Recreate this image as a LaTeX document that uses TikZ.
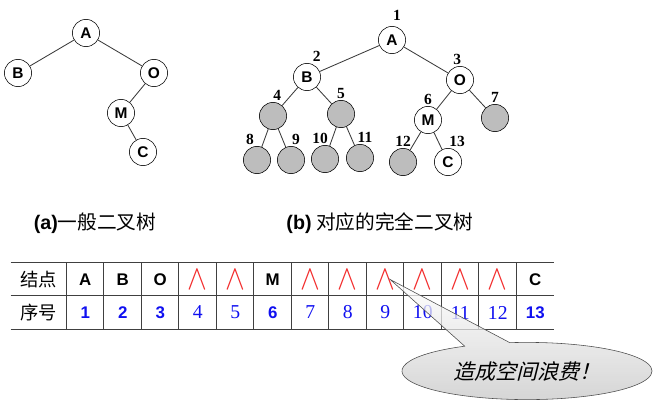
\documentclass[tikz,border=0pt]{standalone}
\usepackage{fontspec}
\setmainfont{Liberation Sans}
\newfontfamily\serifnum{Liberation Serif}
\newfontfamily\cjk{Noto Sans CJK SC}
\newfontfamily\cjkslant[FakeSlant=0.25]{Noto Sans CJK SC}
\usetikzlibrary{shapes.callouts}
\definecolor{idxblue}{HTML}{1010F0}
\definecolor{nilred}{HTML}{F22B2B}
\definecolor{branchgray}{HTML}{3A3A3A}
\definecolor{holegray}{HTML}{BDBDBD}
\newcommand{\nilmark}{\textcolor{nilred}{\scalebox{0.85}[1]{\fontsize{26}{26}\selectfont$\wedge$}}}

\begin{document}
\begin{tikzpicture}[
  x=0.025cm,y=-0.025cm,
  vertex/.style={circle,draw,thin,minimum size=0.68cm,inner sep=0pt,font=\fontsize{11}{11}\selectfont\bfseries},
  hole/.style={vertex,fill=holegray},
  branch/.style={draw=branchgray,semithick},
  num/.style={font=\serifnum\bfseries\fontsize{11}{11}\selectfont,inner sep=1pt},
  caption/.style={font=\fontsize{14}{16}\selectfont\cjk},
  head/.style={minimum width=1.3875cm,minimum height=0.825cm,inner sep=0pt,font=\fontsize{13}{13}\selectfont\cjk},
  cell/.style={minimum width=0.9375cm,minimum height=0.825cm,inner sep=0pt,font=\fontsize{12}{12}\selectfont\bfseries},
  idxb/.style={cell,text=idxblue},
  idxr/.style={cell,text=idxblue,font=\serifnum\fontsize{14}{14}\selectfont},
  rule/.style={line width=0.8pt,black!75},
  bubble/.style={ellipse callout,draw=black!70,top color=white,bottom color=gray!45,fill opacity=0.75,text opacity=1,minimum width=6.25cm,minimum height=1.43cm,callout pointer arc=22,font=\fontsize{15}{17}\selectfont\cjkslant}
]
  \useasboundingbox (0,0) rectangle (655,406);

  % (a) general binary tree
  \node[vertex] (aA) at (86,33) {A};
  \node[vertex] (aB) at (18,73) {B};
  \node[vertex] (aO) at (154,73) {O};
  \node[vertex] (aM) at (121,113) {M};
  \node[vertex] (aC) at (143,152) {C};
  \draw[branch] (aA) -- (aB) (aA) -- (aO) (aO) -- (aM) (aM) -- (aC);

  % (b) matching complete binary tree
  \node[vertex,label={[num,xshift=3.5pt,yshift=3pt]above:1}] (bA) at (392,40) {A};
  \node[vertex,label={[num,xshift=7pt]above:2}] (bB) at (307,77) {B};
  \node[vertex,label={[num,xshift=-2pt]above:3}] (bO) at (460,80) {O};
  \node[hole,label={[num,xshift=3pt]above:4}] (b4) at (273,116) {};
  \node[hole,label={[num]above:5}] (b5) at (341,114) {};
  \node[vertex,label={[num]above:6}] (bM) at (428,120) {M};
  \node[hole,label={[num]above:7}] (b7) at (495,118) {};
  \node[hole,label={[num,xshift=-5pt]above:8}] (b8) at (257,160) {};
  \node[hole,label={[num,xshift=3.5pt]above:9}] (b9) at (291,160) {};
  \node[hole,label={[num,xshift=-3.5pt]above:10}] (b10) at (325,159) {};
  \node[hole,label={[num,xshift=3.5pt]above:11}] (b11) at (360,158) {};
  \node[hole,label={[num]above:12}] (b12) at (403,162) {};
  \node[vertex,label={[num,xshift=6.5pt]above:13}] (bC) at (448,162) {C};
  \draw[branch] (bA) -- (bB) (bA) -- (bO) (bB) -- (b4) (bB) -- (b5)
    (bO) -- (bM) (bO) -- (b7) (b4) -- (b8) (b4) -- (b9)
    (b5) -- (b10) (b5) -- (b11) (bM) -- (b12) (bM) -- (bC);

  \node[caption] (capa) at (95,223) {{\normalfont\bfseries(a)}一般二叉树};
  \node[caption] (capb) at (380,223) {{\normalfont\bfseries(b)} 对应的完全二叉树};

  % sequential storage table
  \node[head] (k1) at (38.75,279.5) {结点};
  \node[head] (k2) at (38.75,312.5) {序号};
  \foreach \v [count=\i] in {A,B,O,\nilmark,\nilmark,M,\nilmark,\nilmark,\nilmark,\nilmark,\nilmark,\nilmark,C}
    \node[cell] (t\i) at (47.75+37.5*\i,279.5) {\v};
  \foreach \i/\s in {1/b,2/b,3/b,4/r,5/r,6/b,7/r,8/r,9/r,10/r,11/r,12/r,13/b}
    \node[idx\s] (n\i) at (47.75+37.5*\i,312.5) {\i};
  \draw[rule] (k1.north west) -- (t13.north east);
  \draw[rule] (k2.north west) -- (n13.north east);
  \draw[rule] (k2.south west) -- (n13.south east);
  \foreach \i in {1,...,13}
    \draw[rule] (t\i.north west) -- (n\i.south west);

  \node[bubble,callout absolute pointer={([xshift=3.5pt]t9.center)}] (waste) at (527,371) {造成空间浪费！};
\end{tikzpicture}
\end{document}
